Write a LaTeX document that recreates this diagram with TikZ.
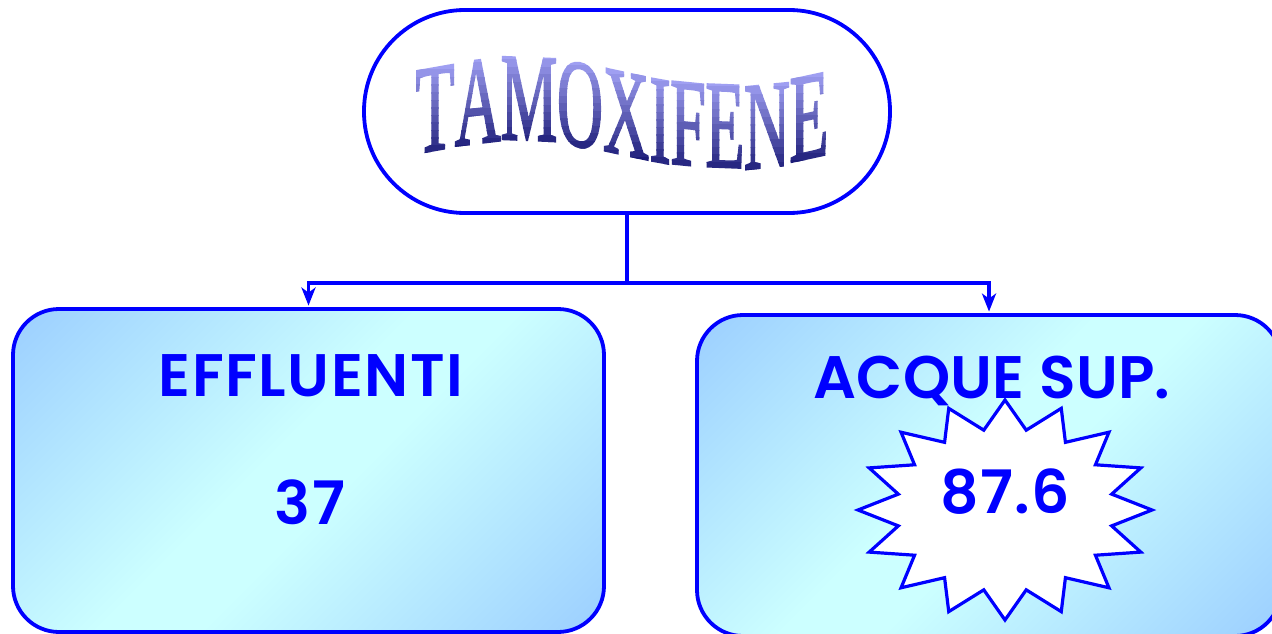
\documentclass[tikz,border=0pt]{standalone}
\usepackage{fontspec}
\usetikzlibrary{arrows.meta}
\newfontfamily\panelfont{Poppins}[UprightFont=* SemiBold, LetterSpace=2.5]
\newfontfamily\wordfont{Liberation Serif}[FakeBold=2]

\definecolor{linkblue}{RGB}{0,0,255}
\definecolor{boxdark}{RGB}{153,204,255}
\definecolor{boxlight}{RGB}{204,255,255}
\definecolor{wordtop}{RGB}{170,170,252}
\definecolor{wordbot}{RGB}{28,28,120}

% diagonal band: darker corners, pale middle
\pgfdeclarehorizontalshading{diagband}{100bp}{%
  color(0bp)=(boxdark); color(13bp)=(boxdark); color(46bp)=(boxlight);
  color(54bp)=(boxlight); color(87bp)=(boxdark); color(100bp)=(boxdark)}

\tikzset{
  edge/.style={draw=linkblue, line width=3.8pt},
  pointer/.style={edge, -{Stealth[length=18pt,width=14pt,inset=5pt]}, shorten >=1.5pt},
  panel/.style={draw=linkblue, line width=3.8pt, rounded corners=46pt, inner sep=0pt,
    shade, shading=diagband, shading angle=-45},
  caption/.style={text=linkblue, inner sep=0pt, anchor=base,
    font=\panelfont\fontsize{60}{62}\selectfont},
  letter/.style={inner sep=0pt, anchor=base, xscale=0.51,
    font=\wordfont\fontsize{125}{125}\selectfont}
}

\begin{document}
\begin{tikzpicture}[x=1pt,y=-1pt]
  \useasboundingbox (0,0) rectangle (1272,634);
  \clip (0,0) rectangle (1272,634);

  % title frame
  \node[draw=linkblue, line width=3.8pt, rounded corners=101pt, inner sep=0pt,
        minimum width=526pt, minimum height=203pt, fill=white] (title) at (627,111.5) {};

  % wavy title lettering, shaded top to bottom in thin bands
  \foreach \ch/\cx/\cb/\sl [count=\n] in {T/435/150/0.09, A/478/143/0.06, M/529/140/-0.02,
      O/580/146/-0.09, X/626/155/-0.11, I/660/162/-0.09, F/688/165/-0.05,
      E/725/167/-0.02, N/767/167/0.05, E/809/158/0.11}
    \foreach \k in {0,...,13} {
      \pgfmathsetmacro{\mixpct}{100-\k*100/13}
      \begin{scope}
        \clip (\cx-40,\cb-95+\k*7.5) rectangle (\cx+40,\cb-87+\k*7.5);
        \node[letter, yslant=\sl, text=wordtop!\mixpct!wordbot] (tl\n-\k) at (\cx,\cb) {\ch};
      \end{scope}
    }

  % panels
  \node[panel, minimum width=591pt, minimum height=323pt] (eff) at (308.5,470.5) {};
  \node[panel, minimum width=584pt, minimum height=321pt] (acq) at (989,475.5) {};

  % connectors
  \coordinate (split) at (627,283);
  \draw[edge] (title.south) -- (split);
  \draw[pointer] (split) -| (eff.north);
  \draw[pointer] (split) -| (acq.north);

  % burst behind the value
  \draw[draw=linkblue, line width=3.2pt, fill=white, line join=miter]
    plot[samples at={0,...,31}]
      ({1005+147*(0.87+0.13*cos(180*\x))*cos(90+11.25*\x)},
       {510-110*(0.87+0.13*cos(180*\x))*sin(90+11.25*\x)}) -- cycle;

  % labels
  \node[caption] (effname) at (311,396) {EFFLUENTI};
  \node[caption] (effval) at (310,524) {37};
  \node[caption, font=\panelfont\fontsize{60}{62}\selectfont\addfontfeatures{LetterSpace=0.5}]
    (acqname) at (992,398) {ACQUE SUP.};
  \node[caption] (acqval) at (1005,513) {87.6};
\end{tikzpicture}
\end{document}
